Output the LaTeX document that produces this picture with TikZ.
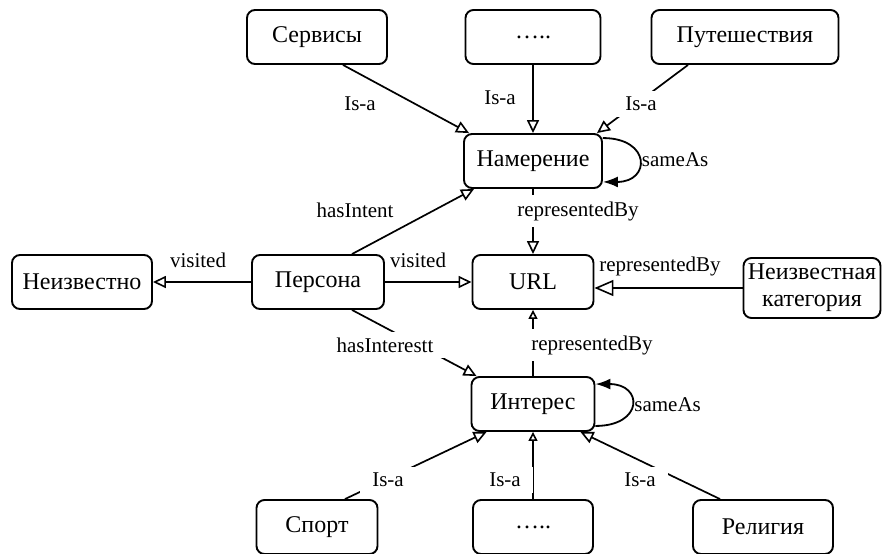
\documentclass[tikz,border=0pt]{standalone}
\usepackage{fontspec}
\setmainfont{Liberation Serif}
\usetikzlibrary{arrows.meta, positioning}

\begin{document}
\begin{tikzpicture}[x=1pt, y=-1pt, >=Latex,
  box/.style={draw, rounded corners=8pt, line width=1.9pt, align=center, minimum height=54pt, inner sep=2pt, font=\fontsize{24}{27}\selectfont},
  lbl/.style={inner sep=2pt, font=\fontsize{21}{24}\selectfont},
  gap/.style={lbl, fill=white, inner xsep=12pt, inner ysep=6pt},
  rel/.style={line width=1.7pt, -{Triangle[open, length=13pt, width=12pt, line width=1.6pt]}},
  relbig/.style={rel, -{Triangle[open, length=19pt, width=16pt, line width=1.6pt]}},
  relsmall/.style={rel, -{Triangle[open, length=9pt, width=9pt, line width=1.6pt]}},
  self/.style={line width=1.8pt, -{Latex[length=15pt, width=11pt]}}]
\useasboundingbox (0,0) rectangle (886,554);

% categories of intent
\node[box, minimum width=140pt] (serv) at (317,37) {Сервисы};
\node[box, minimum width=135pt] (tdots) at (533,37) {…..};
\node[box, minimum width=187pt] (trav) at (745,37) {Путешествия};
\node[box, minimum width=138pt] (intent) at (533,161) {Намерение};

% middle row
\node[box, minimum width=140pt] (unknown) at (82,282) {Неизвестно};
\node[box, minimum width=132pt] (person) at (318,282) {Персона};
\node[box, minimum width=121pt] (url) at (533,282) {URL};
\node[box, minimum width=137pt, minimum height=60pt] (cat) at (812,288) {Неизвестная\\категория};

% categories of interest
\node[box, minimum width=123pt] (interest) at (533,404) {Интерес};
\node[box, minimum width=121pt] (sport) at (317,527) {Спорт};
\node[box, minimum width=120pt] (bdots) at (533,527) {…..};
\node[box, minimum width=140pt] (relig) at (763,527) {Религия};

\draw[rel] ([xshift=26pt]serv.south) -- ([xshift=6pt]intent.north west) node[gap] at (360,104) {Is-a};
\draw[rel] (tdots) -- (intent) node[lbl] at (500,98) {Is-a};
\draw[rel] ([xshift=-57pt]trav.south) -- ([xshift=-6pt]intent.north east) node[gap] at (641,104) {Is-a};
\draw[self] ([yshift=-5pt]intent.north east) .. controls +(48,0) and +(48,0) .. ([yshift=7pt]intent.south east) node[lbl, pos=0.5, right] {sameAs};

\draw[rel] ([xshift=34pt]person.north) -- ([xshift=11pt]intent.south west) node[lbl] at (355,210) {hasIntent};
\draw[rel] (intent) -- (url) node[gap] at (578,211) {representedBy};
\draw[rel] (person) -- (url) node[lbl] at (418,260) {visited};
\draw[rel] (person) -- (unknown) node[lbl] at (198,260) {visited};
\draw[relbig] (cat.west) -- (cat.west -| url.east) node[lbl] at (660,266) {representedBy};
\draw[relsmall] (interest) -- (url) node[gap] at (592,345) {representedBy};
\draw[rel] ([xshift=34pt]person.south) -- ([xshift=6pt]interest.north west) node[gap] at (385,345) {hasInterestt};

\draw[self] ([yshift=6pt]interest.south east) .. controls +(48,0) and +(48,0) .. ([yshift=-8pt]interest.north east) node[lbl, pos=0.5, right] {sameAs};
\draw[rel] ([xshift=28pt]sport.north) -- ([xshift=16pt]interest.south west) node[gap] at (388,480) {Is-a};
\draw[relsmall] (bdots) -- (interest) node[gap] at (505,480) {Is-a};
\draw[rel] ([xshift=-43pt]relig.north) -- ([xshift=-15pt]interest.south east) node[gap] at (640,480) {Is-a};
\end{tikzpicture}
\end{document}
